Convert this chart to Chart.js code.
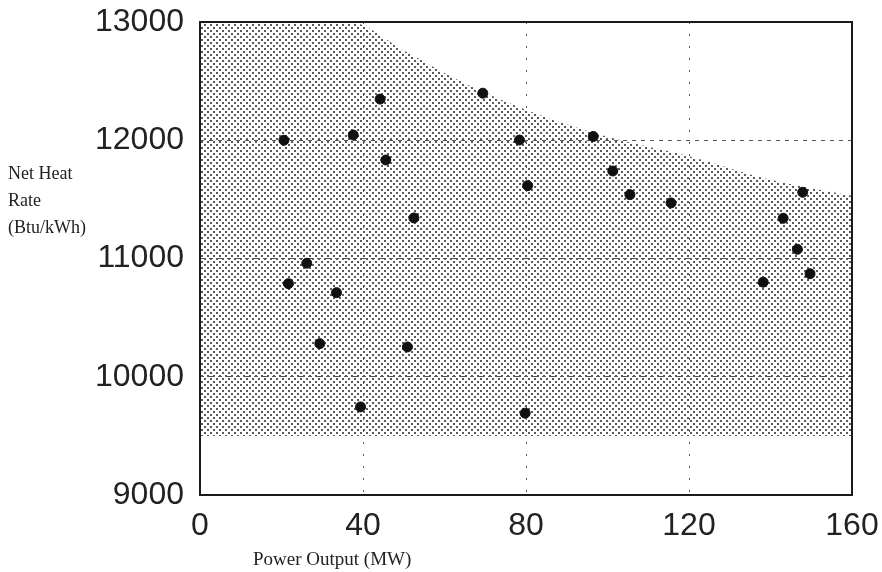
<!DOCTYPE html>
<html>
<head>
<meta charset="utf-8">
<script src="https://cdn.jsdelivr.net/npm/chart.js@4.4.0/dist/chart.umd.min.js"></script>
<style>
  html, body { margin: 0; padding: 0; background: #fff; }
  #wrap { width: 882px; height: 572px; }
</style>
</head>
<body>
<div id="wrap"><canvas id="heat-rate-chart" width="882" height="572"></canvas></div>
<script>
// Test points: output in MW, net heat rate in Btu/kWh
const unitOutput = [20.6, 21.7, 26.2, 29.4, 33.5, 37.6, 39.4, 44.2, 45.6, 50.9, 52.5, 69.4,
                    78.4, 80.4, 79.8, 96.5, 101.3, 105.5, 115.6, 138.2, 143.1, 146.6, 147.9, 149.7];
const unitHeatRate = [12000, 10787, 10960, 10280, 10711, 12044, 9745, 12348, 11833, 10252, 11343, 12398,
                      12002, 11616, 9692, 12032, 11740, 11540, 11470, 10800, 11340, 11078, 11560, 10871];

// Upper edge of the shaded band (lower edge is flat)
const envelopeOutput = [0, 36.5, 50, 65, 82.5, 100, 120, 140, 160];
const envelopeHeatRate = [13000, 13000, 12760, 12480, 12225, 12030, 11865, 11665, 11530];
const bandFloor = 9500;

const xTicks = [0, 40, 80, 120, 160];
const yTicks = [9000, 10000, 11000, 12000, 13000];

const yTitleLines = ['Net Heat', 'Rate', '(Btu/kWh)'];
const xTitle = 'Power Output (MW)';

document.addEventListener('DOMContentLoaded', function() {
    const canvas = document.getElementById('heat-rate-chart');
    const ctx = canvas.getContext('2d');

    // Stipple tile for the band
    const tile = document.createElement('canvas');
    tile.width = 6;
    tile.height = 6;
    const tctx = tile.getContext('2d');
    tctx.fillStyle = '#5a5a5a';
    tctx.fillRect(0, 0, 2, 2);
    tctx.fillRect(3, 3, 2, 2);
    const stipple = ctx.createPattern(tile, 'repeat');

    // Box around the plot plus the serif axis titles
    const frameAndTitles = {
        id: 'frameAndTitles',
        afterDraw: function(chart) {
            const c = chart.ctx;
            const a = chart.chartArea;
            c.save();
            c.strokeStyle = '#1a1a1a';
            c.lineWidth = 2;
            c.strokeRect(a.left, a.top, a.right - a.left, a.bottom - a.top);

            c.fillStyle = '#222';
            c.textBaseline = 'alphabetic';
            c.font = '18px "Liberation Serif", "Times New Roman", serif';
            yTitleLines.forEach(function(line, i) {
                c.fillText(line, 8, 179 + i * 27);
            });
            c.font = '19px "Liberation Serif", "Times New Roman", serif';
            c.fillText(xTitle, 253, 565);
            c.restore();
        }
    };

    const tickFont = { family: '"Liberation Sans", Arial, sans-serif', size: 32 };

    new Chart(canvas, {
        type: 'scatter',
        data: {
            datasets: [{
                label: 'Units',
                data: unitOutput.map(function(x, i) { return { x: x, y: unitHeatRate[i] }; }),
                backgroundColor: '#111',
                borderColor: '#111',
                pointRadius: 5,
                pointHoverRadius: 5
            }, {
                type: 'line',
                label: 'Range',
                data: envelopeOutput.map(function(x, i) { return { x: x, y: envelopeHeatRate[i] }; }),
                borderWidth: 0,
                borderColor: 'rgba(0,0,0,0)',
                backgroundColor: stipple,
                pointRadius: 0,
                cubicInterpolationMode: 'monotone',
                fill: { value: bandFloor }
            }]
        },
        options: {
            responsive: false,
            animation: false,
            layout: { padding: { left: 0, right: 30, top: 22, bottom: 0 } },
            plugins: {
                legend: { display: false },
                tooltip: { enabled: false }
            },
            scales: {
                x: {
                    type: 'linear',
                    min: 0,
                    max: 160,
                    afterBuildTicks: function(scale) {
                        scale.ticks = xTicks.map(function(v) { return { value: v }; });
                    },
                    afterFit: function(scale) {
                        scale.height = 77;
                        scale.paddingLeft = 0;
                        scale.paddingRight = 0;
                    },
                    grid: { color: '#555', lineWidth: 1, drawTicks: false },
                    border: { display: false, dash: [2, 10] },
                    ticks: {
                        color: '#222',
                        font: tickFont,
                        padding: 12,
                        maxRotation: 0,
                        callback: function(value) { return String(value); }
                    }
                },
                y: {
                    type: 'linear',
                    min: 9000,
                    max: 13000,
                    afterBuildTicks: function(scale) {
                        scale.ticks = yTicks.map(function(v) { return { value: v }; });
                    },
                    afterFit: function(scale) {
                        scale.width = 200;
                        scale.paddingTop = 0;
                        scale.paddingBottom = 0;
                    },
                    grid: { color: '#555', lineWidth: 1, drawTicks: false },
                    border: { display: false, dash: [4, 5] },
                    ticks: {
                        color: '#222',
                        font: tickFont,
                        padding: 16,
                        callback: function(value) { return String(value); }
                    }
                }
            }
        },
        plugins: [frameAndTitles]
    });
});
</script>
</body>
</html>
